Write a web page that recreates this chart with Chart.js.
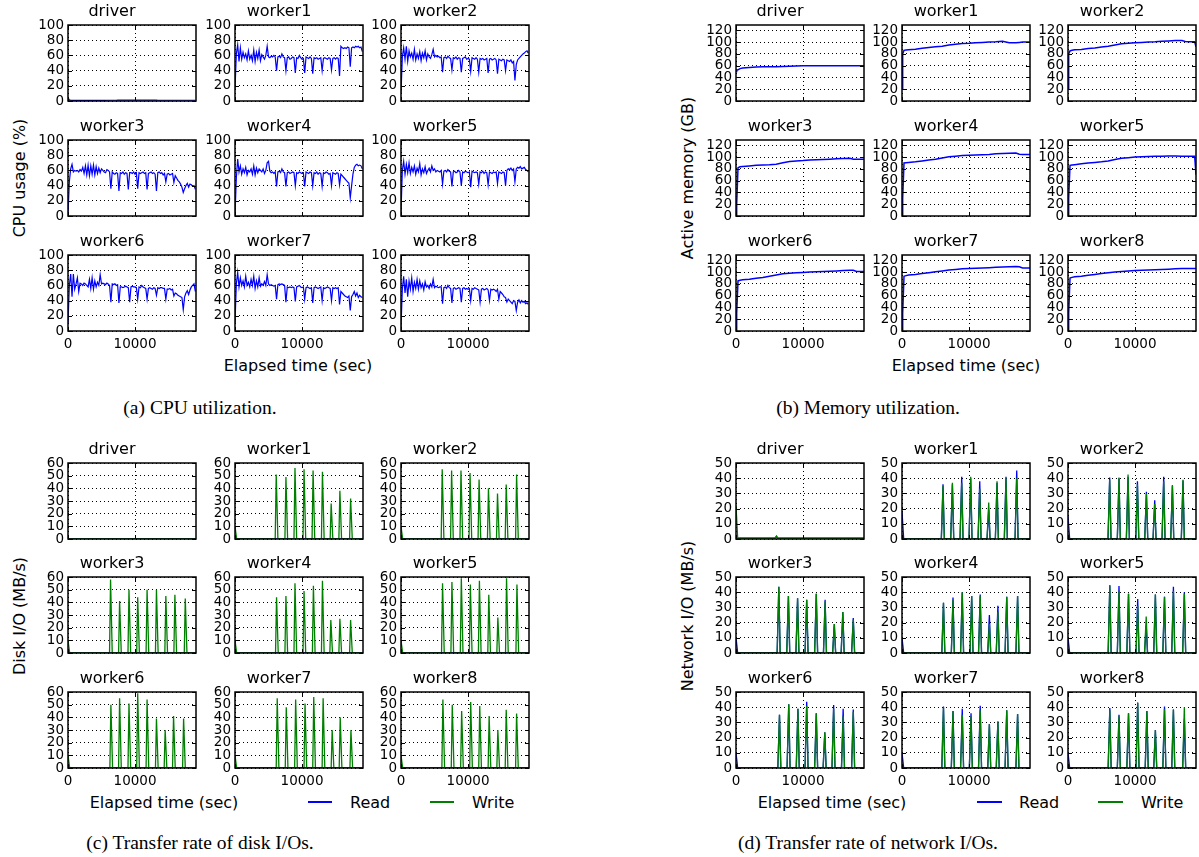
<!DOCTYPE html>
<html>
<head>
<meta charset="utf-8">
<script src="https://cdn.jsdelivr.net/npm/chart.js@4.4.0/dist/chart.umd.min.js"></script>
<style>
  body { margin: 0; background: #fff; }
  #fig { position: relative; width: 1199px; height: 857px; overflow: hidden; font-family: "DejaVu Sans", sans-serif; color: #000; }
  canvas { position: absolute; }
  .lbl { position: absolute; font-size: 16px; white-space: nowrap; transform: translate(-50%, -50%); }
  .ylbl { position: absolute; font-size: 16px; white-space: nowrap; transform: translate(-50%, -50%) rotate(-90deg); }
  .txt { position: absolute; font-size: 16px; white-space: nowrap; transform: translateY(-50%); }
  .cap { position: absolute; font-family: "Liberation Serif", serif; font-size: 19.5px; white-space: nowrap; transform: translate(-50%, -50%); }
  .key { position: absolute; height: 2px; }
</style>
</head>
<body>
<div id="fig">
  <div class="ylbl" style="left:19px;top:178px">CPU usage (%)</div>
  <div class="lbl" style="left:298px;top:365px">Elapsed time (sec)</div>
  <div class="cap" style="left:200px;top:408px">(a) CPU utilization.</div>

  <div class="ylbl" style="left:687px;top:178px">Active memory (GB)</div>
  <div class="lbl" style="left:966px;top:365px">Elapsed time (sec)</div>
  <div class="cap" style="left:868px;top:408px">(b) Memory utilization.</div>

  <div class="ylbl" style="left:19px;top:616px">Disk I/O (MB/s)</div>
  <div class="lbl" style="left:164px;top:802px">Elapsed time (sec)</div>
  <div class="key" style="left:308px;top:801px;width:24px;background:#0000ff"></div>
  <div class="txt" style="left:350px;top:802px">Read</div>
  <div class="key" style="left:430px;top:801px;width:24px;background:#008000"></div>
  <div class="txt" style="left:472px;top:802px">Write</div>
  <div class="cap" style="left:200px;top:843px">(c) Transfer rate of disk I/Os.</div>

  <div class="ylbl" style="left:687px;top:616px">Network I/O (MB/s)</div>
  <div class="lbl" style="left:832px;top:802px">Elapsed time (sec)</div>
  <div class="key" style="left:977px;top:801px;width:25px;background:#0000ff"></div>
  <div class="txt" style="left:1019px;top:802px">Read</div>
  <div class="key" style="left:1098px;top:801px;width:25px;background:#008000"></div>
  <div class="txt" style="left:1141px;top:802px">Write</div>
  <div class="cap" style="left:868px;top:843px">(d) Transfer rate of network I/Os.</div>
</div>
<script>
const names = ["driver", "worker1", "worker2", "worker3", "worker4", "worker5", "worker6", "worker7", "worker8"];

// axis ticks
const timeTicks = [0, 10000];
const cpuTicks = [0, 20, 40, 60, 80, 100];
const memTicks = [0, 20, 40, 60, 80, 100, 120];
const diskTicks = [0, 10, 20, 30, 40, 50, 60];
const netTicks = [0, 10, 20, 30, 40, 50];

// CPU usage (%), sampled every 200 s
const cpuT = [0,200,400,600,800,1000,1200,1400,1600,1800,2000,2200,2400,2600,2800,3000,3200,3400,3600,3800,
  4000,4200,4400,4600,4800,5000,5200,5400,5600,5800,6000,6200,6400,6600,6800,7000,7200,7400,7600,7800,
  8000,8200,8400,8600,8800,9000,9200,9400,9600,9800,10000,10200,10400,10600,10800,11000,11200,11400,11600,11800,
  12000,12200,12400,12600,12800,13000,13200,13400,13600,13800,14000,14200,14400,14600,14800,15000,15200,15400,15600,15800,
  16000,16200,16400,16600,16800,17000,17200,17400,17600,17800,18000,18200,18400,18600,18800,19000];
const cpuDriver = [4,1.5,1,0.8,0.8,0.7,0.7,0.7,0.7,0.7, 0.7,0.7,0.7,0.8,0.8,0.8,0.8,0.8,0.8,0.8,
  0.8,0.8,0.9,0.9,0.9,0.9,0.9,0.9,0.9,1, 1,1,1,1,1,1,1,1.1,1.1,1.1, 1.1,1.1,1.1,1.1,1.1,1.1,1.2,1.2,1.2,1.2,
  1.2,1.2,1.2,1.1,1.1,1.1,1.1,1.1,1.1,1.1, 1.1,1.1,1.1,1.1,1.1,1.1,1.1,1,1,1, 1,1,1,1,1,1,1,1,1,1,
  1,1,1,1,1,1,1,1,1,1, 1,1,1,1,1,1];
const cpuW1 = [15,62,74,52,70,55,64,57,62,54, 66,55,60,53,67,52,64,56,67,53, 61,58,55,60,72,58,57,59,58,60,
  58,40,58,59,57,62,58,57,40,57, 58,55,56,58,57,37,57,56,60,57, 55,56,37,58,57,56,58,56,36,57,
  56,57,55,56,57,40,56,57,56,55, 57,56,41,56,57,55,57,56,33,72, 70,69,70,69,71,70,45,70,71,70,
  72,71,72,70,71,65];
const cpuW2 = [10,58,70,55,72,52,66,58,63,55, 68,54,62,56,65,53,63,57,66,54, 62,58,56,61,68,58,60,58,59,57,
  58,38,57,58,56,59,57,56,41,57, 56,58,55,57,56,38,56,57,58,55, 56,55,39,57,56,55,57,55,38,56,
  55,56,54,55,56,37,55,56,54,55, 56,54,36,55,54,53,55,54,40,54, 53,52,54,50,52,27,48,54,56,58,
  60,62,63,65,66,63];
const cpuW3 = [2,45,62,68,58,60,59,60,58,61, 59,64,56,66,54,67,53,66,55,67, 54,65,56,63,57,62,60,58,57,61,
  60,58,36,58,56,55,57,56,33,57, 56,58,55,57,56,35,57,57,56,58, 55,57,36,57,56,57,58,56,57,35,
  56,57,58,56,57,55,33,57,58,56, 57,54,56,45,55,56,54,55,56,44, 53,50,47,45,42,38,31,36,40,43,
  38,42,41,39,40,35];
const cpuW4 = [0,50,75,58,66,55,62,57,64,54, 60,58,62,55,66,54,63,57,62,60, 58,62,56,60,70,72,59,57,58,56,
  58,39,58,59,57,62,58,57,39,57, 58,56,57,58,57,40,57,56,58,57, 56,57,39,58,57,56,58,57,40,57,
  56,58,55,57,56,39,57,56,58,57, 55,56,40,57,56,55,57,56,41,55, 53,51,49,47,45,43,24,40,55,64,
  67,68,66,67,66,62];
const cpuW5 = [5,60,72,55,68,57,70,56,64,58, 66,55,63,58,69,54,62,57,65,56, 60,63,58,66,60,62,58,60,59,58,
  60,42,59,60,58,61,59,58,39,58, 59,57,58,60,58,40,58,57,59,58, 57,58,38,59,58,57,58,57,42,58,
  57,59,56,58,57,41,58,57,56,58, 57,58,43,58,57,56,58,57,40,60, 62,61,63,60,62,45,62,64,63,65,
  62,63,64,61,60,58];
const cpuW6 = [10,60,75,45,75,55,62,70,52,63, 62,60,63,62,60,58,68,56,70,55, 66,58,64,60,74,62,63,62,61,63,
  62,60,38,62,61,62,60,61,37,58, 58,57,58,59,58,57,38,58,59,58, 58,57,42,58,57,60,58,57,56,42,
  56,57,56,55,57,56,47,57,56,57, 57,56,56,42,55,55,56,54,55,46, 50,49,47,46,45,44,28,45,50,53,
  48,54,58,60,62,52];
const cpuW7 = [10,62,77,58,70,60,66,58,72,60, 64,58,68,60,72,56,66,58,70,59, 62,60,65,60,74,62,60,61,60,59,
  60,42,61,62,61,62,61,60,38,58, 57,58,57,58,57,39,58,59,60,58, 57,58,42,57,58,57,56,57,37,57,
  58,57,56,57,58,40,57,56,57,58, 57,56,40,57,56,57,56,57,35,52, 50,48,46,45,44,46,27,45,48,52,
  46,50,44,47,45,44];
const cpuW8 = [5,55,72,50,68,45,66,55,70,52, 64,56,68,55,66,57,62,54,65,58, 60,56,62,58,68,57,59,58,57,58,
  58,36,57,58,56,60,57,56,37,56, 57,55,56,57,56,38,56,57,55,56, 55,56,40,56,55,57,56,55,54,38,
  55,56,54,55,56,54,40,55,54,55, 54,52,55,42,52,50,48,45,44,38, 42,40,38,36,40,39,27,38,41,37,
  40,38,39,36,37,35];
const cpuSeries = [cpuDriver, cpuW1, cpuW2, cpuW3, cpuW4, cpuW5, cpuW6, cpuW7, cpuW8];

// Active memory (GB)
const memT = [0,100,300,600,1000,2000,3000,4000,5000,6000,7000,8000,9000,10000,11000,12000,13000,14000,15000,16000,17000,17500,18000,18900,19100];
const memDriver = [50,52,53,55,56,57,57.5,58,58,58,58.5,59,59.5,60,60,60,60,60,60,60,60,60,60,60,60];
const memW1 = [20,80,86,86.5,87,88,89.5,91,92,93,95,96.5,97.5,98,99,99.5,100,100.5,101.5,99,99,99.5,100,100,100];
const memW2 = [20,80,85,86,87,87.5,89,90,91.5,93,95,97,98,99,99.5,100,100.5,101.5,102,102.5,102.5,101,100.5,100.5,92];
const memW3 = [0,20,82,83.5,84,85,86,86.5,87,88,90.5,92.5,93.5,94,95,95.5,96,96.5,97,97.5,98,96.5,96.5,96.5,96.5];
const memW4 = [0,30,90,90.5,91,92,93.5,95,96.5,98.5,100.5,101.5,102.5,103,103.5,104,104.5,105.5,106,106.5,107,105,104.5,104.5,104.5];
const memW5 = [0,30,86,86.5,87,88.5,90,91,92,93.5,96,98,99,100,100.5,101,101.3,101.6,102,102,101.5,101.5,101.5,101.5,70];
const memW6 = [0,30,85,86,87,88,89.5,91,93,95,97,98,99,99.5,100,100.5,101,101.5,102,102.5,103,103,101,101,101];
const memW7 = [0,30,93,94,95,96,97.5,99,100.5,102,103.5,104.5,105.5,106,106.5,107,107.5,108,108.5,109,109.5,109,107,107,107];
const memW8 = [0,30,90,91,92,93,94.5,96,97.5,99,100,101,102,102.5,103,103.5,104,104.5,105,105.5,106,106,106,106,106];
const memSeries = [memDriver, memW1, memW2, memW3, memW4, memW5, memW6, memW7, memW8];

// Disk I/O (MB/s): burst times (s) and write peaks; reads stay at 0
const diskT = [
  [],
  [6150,7600,8950,10300,11650,13050,14350,15650,17250],
  [6150,7550,8950,10300,11650,13050,14400,15700,17250],
  [6350,7700,9100,10400,11800,13200,14600,15950,17500],
  [6200,7600,8950,10300,11700,13050,14300,15650,17250],
  [6200,7600,9000,10350,11700,13100,14450,15750,17300],
  [6400,7700,9100,10400,11800,13200,14500,15750,17250],
  [6300,7650,9050,10450,11750,13150,14500,15700,17300],
  [6250,7650,9050,10400,11750,13150,14450,15700,17250]];
const diskWrite = [
  [],
  [51,49,56,55,54,53,28,38,32],
  [55,54,54,52,47,40,36,43,51],
  [58,41,50,44,50,50,45,46,43],
  [44,45,55,49,53,57,26,27,26],
  [55,56,59,54,57,46,28,59,54],
  [50,55,51,59,54,39,30,41,39],
  [55,48,54,51,56,55,30,40,30],
  [54,50,45,52,49,41,30,46,43]];
const diskStart = [0,10,10,10,10,10,10,10,10];

// Network I/O (MB/s): burst times (s), read and write peaks
const netT = [
  [6050],
  [6120,7520,8910,10250,11600,12940,14180,15520,17120],
  [6220,7610,8960,10360,11700,12940,14280,15580,17160],
  [6390,7820,9190,10550,11980,13300,14670,15940,17500],
  [6190,7610,8990,10400,11670,13040,14310,15630,17250],
  [6240,7610,9030,10400,11670,13040,14400,15730,17360],
  [6490,7870,9240,10550,11980,13250,14570,15990,17500],
  [6190,7610,8990,10300,11670,13040,14310,15630,17250],
  [6240,7610,9030,10400,11770,13040,14400,15730,17360]];
const netRead = [
  [1.5],
  [36,36,41,40,38,19,37,41,45],
  [40.5,40,41,38,31,25.5,41,35,38.5],
  [43.5,37.5,36,35,39,35,19,27,23],
  [33,36.5,40,37.5,38.5,25,31,37,37.5],
  [44.5,44,39,35.5,18,38.5,37,43.5,40],
  [35,42,39,43.5,36,23.5,41.5,39,38.5],
  [40.5,37.5,39,36,41,29,30.5,38,35.5],
  [39.5,35,36,43,37.5,25,40.5,38.5,32]];
const netWrite = [
  [2],
  [35,37,37,41,33,24,38,40,40],
  [39,40.5,42.5,36,30,23,38,35.5,39],
  [43.5,37.5,36,35,39,34,19,27,22],
  [33,35,40,37.5,37.5,19,27,37,37.5],
  [44.5,41,39,31,24,38.5,37,41,39],
  [35,42,39,41,36,23.5,39,34,37],
  [40,37.5,35,34,38,29,30.5,38,35.5],
  [38,34,36,43,37.5,25,39,38.5,40]];
const netReadStart = [0,18,15,10,10,10,10,10,10];
const netWriteStart = [22,0,0,0,0,0,0,0,0];
const netBase = [0.5,0,0,0,0,0,0,0,0];

const FONT = "DejaVu Sans";
const BLUE = "#0000ff", GREEN = "#008000";
const TMAX = 19100;
const PW = 128, PH = 76;
const colsLeft = [68, 235, 401], colsRight = [736, 902, 1068];
const rowsTop = [25, 140, 255], rowsBottom = [463, 577, 692];

Chart.defaults.font.family = FONT;
const fig = document.getElementById("fig");

const frame = {
  id: "frame",
  afterDatasetsDraw(chart) {
    const { ctx, chartArea: a, scales } = chart;
    ctx.save();
    ctx.setLineDash([]);
    ctx.strokeStyle = "#000";
    ctx.lineWidth = 1;
    ctx.beginPath();
    scales.x.ticks.forEach(t => {
      const px = Math.round(scales.x.getPixelForValue(t.value)) + 0.5;
      ctx.moveTo(px, a.bottom); ctx.lineTo(px, a.bottom - 4);
      ctx.moveTo(px, a.top); ctx.lineTo(px, a.top + 4);
    });
    scales.y.ticks.forEach(t => {
      const py = Math.round(scales.y.getPixelForValue(t.value)) + 0.5;
      ctx.moveTo(a.left, py); ctx.lineTo(a.left + 4, py);
      ctx.moveTo(a.right, py); ctx.lineTo(a.right - 4, py);
    });
    ctx.stroke();
    ctx.lineWidth = 1.5;
    ctx.strokeRect(a.left, a.top, a.right - a.left, a.bottom - a.top);
    ctx.restore();
  }
};

function pairs(ts, vs) {
  return ts.map((t, i) => ({ x: t, y: vs[i] }));
}

// bursts drawn as narrow peaks on a flat floor
function bursts(ts, peaks, start, base, rise, fall) {
  const pts = [{ x: 0, y: start }, { x: 250, y: base }];
  ts.forEach((t, i) => {
    pts.push({ x: t - rise, y: base }, { x: t, y: peaks[i] }, { x: t + fall, y: base });
  });
  pts.push({ x: TMAX, y: base });
  return pts;
}

// order: higher value is painted first (underneath)
function line(data, color, width, order) {
  return { data, borderColor: color, borderWidth: width, pointRadius: 0, tension: 0, fill: false, order: order || 0 };
}

function fixedTicks(values) {
  return s => { s.ticks = values.map(v => ({ value: v })); };
}

function small(x0, y0, title, showX, ymax, yTicks, datasets) {
  const L = 40, T = 22, R = 6, B = 21;
  const cv = document.createElement("canvas");
  cv.width = L + PW + R;
  cv.height = T + PH + B;
  cv.style.left = (x0 - L) + "px";
  cv.style.top = (y0 - T) + "px";
  fig.appendChild(cv);
  const tickFont = { family: FONT, size: 13.5 };
  new Chart(cv, {
    type: "line",
    data: { datasets },
    options: {
      responsive: false,
      animation: false,
      devicePixelRatio: 1,
      events: [],
      layout: { padding: { left: 0, right: R, top: 1, bottom: 1 } },
      plugins: {
        legend: { display: false },
        tooltip: { enabled: false },
        title: {
          display: true, text: title, color: "#000",
          font: { family: FONT, size: 16, weight: "normal", lineHeight: 1 },
          padding: { top: 0, bottom: 5 }
        }
      },
      scales: {
        x: {
          type: "linear", min: 0, max: TMAX,
          afterBuildTicks: fixedTicks(timeTicks),
          afterFit: s => { s.height = 20; },
          ticks: { display: showX, autoSkip: false, color: "#000", padding: 5, maxRotation: 0, font: tickFont,
            callback: v => String(v) },
          grid: { color: "#000", lineWidth: 1, drawTicks: false },
          border: { display: false, dash: [1, 3] }
        },
        y: {
          type: "linear", min: 0, max: ymax,
          afterBuildTicks: fixedTicks(yTicks),
          afterFit: s => { s.width = 40; },
          ticks: { autoSkip: false, color: "#000", padding: 4, font: tickFont, callback: v => String(v) },
          grid: { color: "#000", lineWidth: 1, drawTicks: false },
          border: { display: false, dash: [1, 3] }
        }
      }
    },
    plugins: [frame]
  });
}

function panel(cols, rows, ymax, yTicks, makeSets) {
  names.forEach((name, k) => {
    const r = Math.floor(k / 3), c = k % 3;
    small(cols[c], rows[r], name, r === 2, ymax, yTicks, makeSets(k));
  });
}

panel(colsLeft, rowsTop, 100, cpuTicks, k => [line(pairs(cpuT, cpuSeries[k]), BLUE, 1.2)]);
panel(colsRight, rowsTop, 129, memTicks, k => [line(pairs(memT, memSeries[k]), BLUE, 1.5)]);
panel(colsLeft, rowsBottom, 60, diskTicks, k => [
  line([{ x: 0, y: 0 }, { x: TMAX, y: 0 }], BLUE, 1.3, 1),
  line(bursts(diskT[k], diskWrite[k], diskStart[k], 0, 150, 250), GREEN, 1.3, 0)
]);
panel(colsRight, rowsBottom, 50, netTicks, k => [
  line(bursts(netT[k], netRead[k], netReadStart[k], netBase[k], 250, 200), BLUE, 1.3, 1),
  line(bursts(netT[k], netWrite[k], netWriteStart[k], netBase[k], 250, 200), GREEN, 1.3, 0)
]);
</script>
</body>
</html>
